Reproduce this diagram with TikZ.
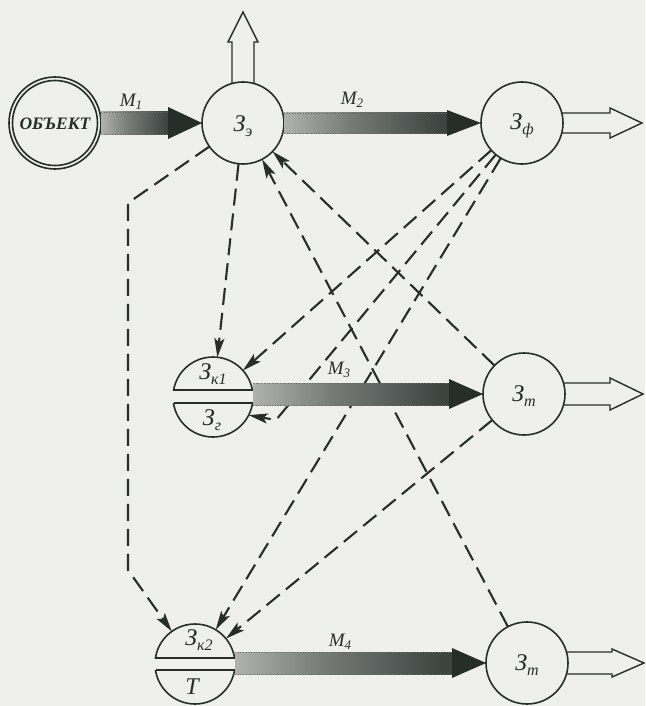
\documentclass[tikz,border=0pt]{standalone}
\usepackage{fontspec}
\setmainfont{Liberation Serif}
\usetikzlibrary{arrows.meta,calc}

\definecolor{bgc}{RGB}{239,239,237}
\definecolor{inkc}{RGB}{38,46,42}

% grainy light-to-dark fill of the flow arrows
\pgfdeclarehorizontalshading{flowshade}{100bp}{%
  color(0bp)=(bgc); color(18bp)=(inkc!22!bgc); color(45bp)=(inkc!60!bgc);
  color(72bp)=(inkc!88!bgc); color(100bp)=(inkc)}

% lowered small text for indices
\newcommand\zsub[1]{\raisebox{-0.45ex}{\fontsize{16}{16}\selectfont #1}}
\newcommand\msub[1]{\raisebox{-0.4ex}{\fontsize{13}{13}\selectfont #1}}

% flow arrow: #1 start, #2 tip, #3 half width of the shaft, #4 extra half width of the head
\newcommand\flowarrow[4]{%
  \shade[shading=flowshade] ($(#1)+(0,-#3)$) rectangle ($(#2)+(-32,#3)$);
  \draw[flowedge] ($(#1)+(0,-#3)$) -- ($(#2)+(-32,-#3)$);
  \draw[flowedge] ($(#1)+(0,#3)$) -- ($(#2)+(-32,#3)$);
  \fill[inkc] ($(#2)+(-34,-#3-#4)$) -- (#2) -- ($(#2)+(-34,#3+#4)$) -- cycle;
}

\begin{document}
\begin{tikzpicture}[x=1pt,y=-1pt,line join=round]
\tikzset{
  circ/.style={circle, minimum size=82pt, inner sep=0pt, outer sep=0pt},
  ring/.style={draw=inkc, line width=1.6pt, fill=bgc},
  chord/.style={draw=inkc, line width=1.6pt},
  hollow/.style={draw=inkc, line width=1.4pt, fill=bgc, line join=miter},
  dep/.style={draw=inkc, line width=2.1pt, dash pattern=on 17pt off 8pt,
              -{Stealth[length=19pt,width=10pt,inset=4pt,fill=inkc]}},
  flowedge/.style={draw=inkc!70!bgc, line width=0.7pt, dotted},
  lab/.style={inner sep=0pt, text=inkc, font=\fontsize{24}{26}\selectfont\itshape},
  mlab/.style={inner sep=0pt, text=inkc, font=\fontsize{19}{21}\selectfont\itshape},
  objlab/.style={inner sep=0pt, text=inkc, font=\fontsize{17.5}{19}\selectfont\bfseries\itshape},
}
\fill[bgc] (0,0) rectangle (645,706);
\useasboundingbox (0,0) rectangle (645,706);

% node outlines (drawn below in layers)
\node[circ, minimum size=92pt] (obj) at (55,123) {};
\node[circ] (ze)  at (243,123) {};
\node[circ] (zf)  at (522,123) {};
\node[circ, minimum size=80pt] (zk1) at (213,397) {};
\node[circ] (zt1) at (524,394) {};
\node[circ, minimum size=80pt] (zk2) at (195,664) {};
\node[circ] (zt2) at (527,663) {};

% hollow output arrows
\draw[hollow] (ze.center) ++(-11,0) -- ++(0,-81) -- ++(-4,0) -- ++(15,-30)
  -- ++(15,30) -- ++(-4,0) -- ++(0,81) -- cycle;
\draw[hollow] (zf.center) ++(0,-10) -- ++(88,0) -- ++(0,-5) -- ++(32,15)
  -- ++(-32,15) -- ++(0,-5) -- ++(-88,0) -- cycle;
\draw[hollow] (zt1.center) ++(0,-11) -- ++(86,0) -- ++(0,-5) -- ++(33,16)
  -- ++(-33,16) -- ++(0,-5) -- ++(-86,0) -- cycle;
\draw[hollow] (zt2.center) ++(0,-11) -- ++(85,0) -- ++(0,-3) -- ++(32,14)
  -- ++(-32,14) -- ++(0,-3) -- ++(-85,0) -- cycle;

% circles
\draw[ring] (obj) circle (46pt);
\draw[ring] (obj) circle (42.5pt);
\draw[ring] (ze) circle (41pt);
\draw[ring] (zf) circle (41pt);
\draw[ring] (zt1) circle (41pt);
\draw[ring] (zt2) circle (41pt);

% split nodes: two caps of one circle
\begin{scope}
  \clip (160,340) rectangle (270,390);
  \draw[ring] (zk1) circle (40pt);
\end{scope}
\begin{scope}
  \clip (160,403) rectangle (270,450);
  \draw[ring] (zk1) circle (40pt);
\end{scope}
\draw[chord] (173.6,390) -- (252.4,390);
\draw[chord] (173.5,403) -- (252.5,403);
\begin{scope}
  \clip (140,610) rectangle (250,658);
  \draw[ring] (zk2) circle (40pt);
\end{scope}
\begin{scope}
  \clip (140,670) rectangle (250,720);
  \draw[ring] (zk2) circle (40pt);
\end{scope}
\draw[chord] (155.5,658) -- (234.5,658);
\draw[chord] (155.5,670) -- (234.5,670);

% dashed control links
\coordinate (b1) at (128,203);
\coordinate (b2) at (128,570);
\coordinate (b3) at (276,420);
\draw[dep] (ze) -- (zk1);
\draw[dep] (ze.215) -- (b1) -- (b2) -- (zk2);
\draw[dep] (zt1) -- (ze);
\draw[dep] (zt2) -- (ze);
\draw[dep] (zf) -- (zk1);
\draw[dep] (zf) -- (b3) -- (zk1.-27);
\draw[dep] (zf) -- (zk2);
\draw[dep] (zt1) -- (zk2);

% flow arrows M1..M4
\coordinate (m3s) at (zk1.east |- zt1.west);
\coordinate (m4s) at (zk2.east |- zt2.west);
\flowarrow{obj.east}{ze.west}{11}{5}
\flowarrow{ze.east}{zf.west}{10}{3}
\flowarrow{m3s}{zt1.west}{11}{4}
\flowarrow{m4s}{zt2.west}{11}{4}

% labels
\node[mlab] (m1) at (131,102) {M\msub{1}};
\node[mlab] (m2) at (352,100) {M\msub{2}};
\node[mlab] (m3) at (339,370) {M\msub{3}};
\node[mlab] (m4) at (340,642) {M\msub{4}};

\node[objlab] (obj-t) at (55,124) {ОБЪЕКТ};
\node[lab] (ze-t)  at (243,126) {З\zsub{э}};
\node[lab] (zf-t)  at (522,126) {З\zsub{ф}};
\node[lab] (zk1-t) at (213,374) {З\zsub{к1}};
\node[lab] (zg-t)  at (212,420) {З\zsub{г}};
\node[lab] (zt1-t) at (524,396) {З\zsub{т}};
\node[lab] (zk2-t) at (199,640) {З\zsub{к2}};
\node[lab] (zT-t)  at (192,687) {Т};
\node[lab] (zt2-t) at (527,665) {З\zsub{т}};
\end{tikzpicture}
\end{document}
